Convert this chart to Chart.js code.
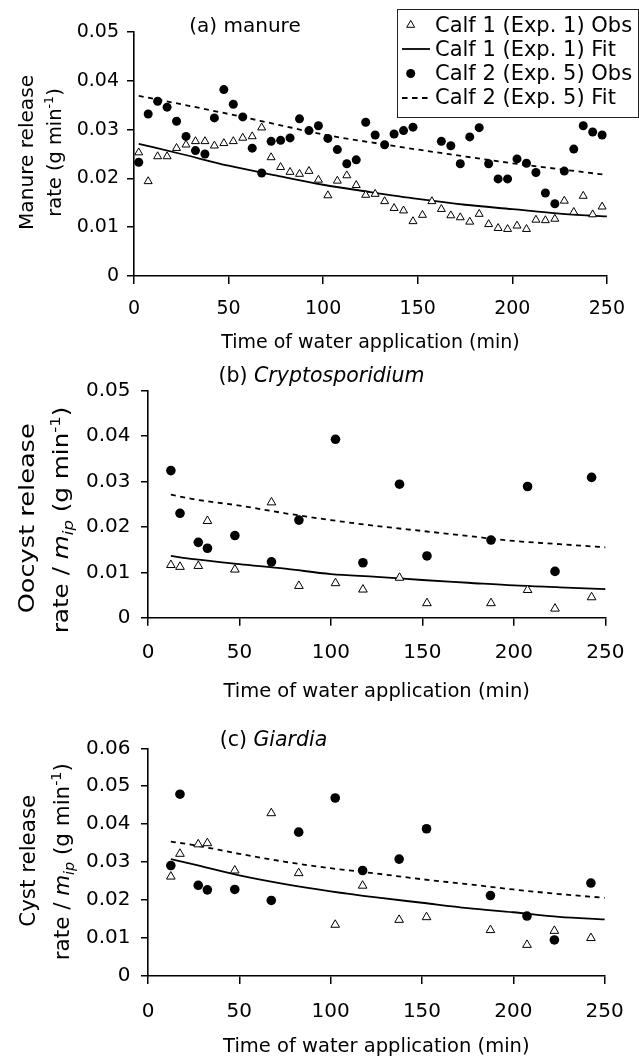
<!DOCTYPE html>
<html><head><meta charset="utf-8">
<script src="https://cdn.jsdelivr.net/npm/chart.js@4/dist/chart.umd.min.js"></script>
<style>
html,body{margin:0;padding:0;background:#fff;width:639px;height:1059px;overflow:hidden}
.panel{position:absolute;left:0;width:639px}
</style></head><body>
<div class="panel" style="top:0;height:354px"><canvas id="ca"></canvas></div>
<div class="panel" style="top:354px;height:350px"><canvas id="cb"></canvas></div>
<div class="panel" style="top:704px;height:355px"><canvas id="cc"></canvas></div>
<script>
// ---------------- DATA ----------------
const legendLabels = ['Calf 1 (Exp. 1) Obs', 'Calf 1 (Exp. 1) Fit', 'Calf 2 (Exp. 5) Obs', 'Calf 2 (Exp. 5) Fit'];
const xTickLabels = ['0', '50', '100', '150', '200', '250'];
const yTickLabels5 = ['0', '0.01', '0.02', '0.03', '0.04', '0.05'];
const yTickLabels6 = ['0', '0.01', '0.02', '0.03', '0.04', '0.05', '0.06'];

// (a) manure
const manureTime1 = [2.5, 7.5, 12.5, 17.5, 22.5, 27.5, 32.5, 37.5, 42.5, 47.5, 52.5, 57.5, 62.5, 67.5, 72.5, 77.5, 82.5, 87.5, 92.5, 97.5, 102.5, 107.5, 112.5, 117.5, 122.5, 127.5, 132.5, 137.5, 142.5, 147.5, 152.5, 157.5, 162.5, 167.5, 172.5, 177.5, 182.5, 187.5, 192.5, 197.5, 202.5, 207.5, 212.5, 217.5, 222.5, 227.5, 232.5, 237.5, 242.5, 247.5];
const manureCalf1Obs = [0.0253, 0.0194, 0.0245, 0.0245, 0.0262, 0.0269, 0.0276, 0.0276, 0.0267, 0.0272, 0.0276, 0.0283, 0.0286, 0.0304, 0.0243, 0.0223, 0.0213, 0.0209, 0.0215, 0.0197, 0.0165, 0.0195, 0.0206, 0.0186, 0.0166, 0.0168, 0.0153, 0.0139, 0.0134, 0.0112, 0.0125, 0.0153, 0.0137, 0.0124, 0.0120, 0.0111, 0.0127, 0.0106, 0.0098, 0.0096, 0.0103, 0.0096, 0.0115, 0.0114, 0.0117, 0.0154, 0.0131, 0.0164, 0.0126, 0.0142];
const manureTime2 = [2.5, 7.5, 12.5, 17.5, 22.5, 27.5, 32.5, 37.5, 42.5, 47.5, 52.5, 57.5, 62.5, 67.5, 72.5, 77.5, 82.5, 87.5, 92.5, 97.5, 102.5, 107.5, 112.5, 117.5, 122.5, 127.5, 132.5, 137.5, 142.5, 147.5, 162.5, 167.5, 172.5, 177.5, 182.5, 187.5, 192.5, 197.5, 202.5, 207.5, 212.5, 217.5, 222.5, 227.5, 232.5, 237.5, 242.5, 247.5];
const manureCalf2Obs = [0.0233, 0.0332, 0.0358, 0.0346, 0.0317, 0.0286, 0.0257, 0.0250, 0.0324, 0.0382, 0.0352, 0.0326, 0.0262, 0.0211, 0.0276, 0.0278, 0.0283, 0.0322, 0.0298, 0.0308, 0.0282, 0.0259, 0.0230, 0.0238, 0.0315, 0.0289, 0.0269, 0.0291, 0.0298, 0.0305, 0.0276, 0.0267, 0.0230, 0.0285, 0.0304, 0.0230, 0.0199, 0.0199, 0.0240, 0.0231, 0.0212, 0.0170, 0.0148, 0.0215, 0.0260, 0.0308, 0.0295, 0.0289];
const manureFitTime = [2.5, 25, 50, 75, 100, 125, 150, 175, 200, 225, 250];
const manureCalf1Fit = [0.0271, 0.0250, 0.0226, 0.0206, 0.0187, 0.0172, 0.0158, 0.0146, 0.0137, 0.0128, 0.0122];
const manureCalf2Fit = [0.0369, 0.0352, 0.0332, 0.0311, 0.0290, 0.0274, 0.0259, 0.0245, 0.0231, 0.0219, 0.0207];

// (b) Cryptosporidium and (c) Giardia share sampling times
const pathogenTime = [12.5, 17.5, 27.5, 32.5, 47.5, 67.5, 82.5, 102.5, 117.5, 137.5, 152.5, 187.5, 207.5, 222.5, 242.5];
const pathogenFitTime = [12.5, 25, 50, 75, 100, 125, 150, 175, 200, 225, 250];

const oocystCalf1Obs = [0.0116, 0.0112, 0.0114, 0.0213, 0.0106, 0.0254, 0.0070, 0.0076, 0.0062, 0.0088, 0.0032, 0.0032, 0.0061, 0.0020, 0.0045];
const oocystCalf2Obs = [0.0324, 0.0230, 0.0166, 0.0153, 0.0181, 0.0123, 0.0215, 0.0393, 0.0121, 0.0294, 0.0136, 0.0171, 0.0289, 0.0102, 0.0309];
const oocystCalf1Fit = [0.0136, 0.0129, 0.0118, 0.0108, 0.0096, 0.0090, 0.0083, 0.0077, 0.0071, 0.0067, 0.0063];
const oocystCalf2Fit = [0.0271, 0.0261, 0.0247, 0.0230, 0.0215, 0.0202, 0.0191, 0.0180, 0.0169, 0.0162, 0.0155];

const cystCalf1Obs = [0.0262, 0.0322, 0.0347, 0.0350, 0.0278, 0.0429, 0.0271, 0.0135, 0.0238, 0.0148, 0.0155, 0.0121, 0.0082, 0.0119, 0.0100];
const cystCalf2Obs = [0.0291, 0.0479, 0.0239, 0.0227, 0.0228, 0.0199, 0.0379, 0.0469, 0.0278, 0.0308, 0.0388, 0.0212, 0.0158, 0.0095, 0.0245];
const cystCalf1Fit = [0.0308, 0.0294, 0.0265, 0.0242, 0.0223, 0.0207, 0.0193, 0.0179, 0.0168, 0.0156, 0.0149];
const cystCalf2Fit = [0.0354, 0.0345, 0.0322, 0.0301, 0.0284, 0.0270, 0.0255, 0.0242, 0.0228, 0.0216, 0.0206];

// ---------------- DRAWING ----------------
const FONT = '"DejaVu Sans", "Liberation Sans", sans-serif';
const pts = (xs, ys) => xs.map((x, i) => ({x: x, y: ys[i]}));
function seg(text, size, style, dy) { return {text: text, size: size, style: style || 'normal', dy: dy || 0}; }

function drawRich(ctx, segs, x, y, o) {
  o = o || {};
  let w = 0;
  const widths = segs.map(s => { ctx.font = s.style + ' ' + s.size + 'px ' + FONT; const m = ctx.measureText(s.text).width; w += m; return m; });
  const k = o.length ? o.length / w : 1;
  ctx.save();
  ctx.translate(x, y);
  if (o.rotate) ctx.rotate(-Math.PI / 2);
  ctx.scale(k, 1);
  ctx.textAlign = 'left'; ctx.textBaseline = 'alphabetic'; ctx.fillStyle = '#000';
  let cx = o.align === 'left' ? 0 : -w / 2;
  segs.forEach((s, i) => { ctx.font = s.style + ' ' + s.size + 'px ' + FONT; ctx.fillText(s.text, cx, s.dy); cx += widths[i]; });
  ctx.restore();
}

function drawLegend(ctx) {
  ctx.save();
  ctx.fillStyle = '#fff'; ctx.strokeStyle = '#222'; ctx.lineWidth = 1;
  ctx.fillRect(397.5, 9.5, 241, 108);
  ctx.strokeRect(397.5, 9.5, 241, 108);
  const symY = [25, 49, 73.5, 98];
  const txtY = [31.5, 55.5, 79.5, 103.5];
  // triangle
  const r = 4.6, cx = 410.7;
  ctx.beginPath();
  for (let i = 0; i < 3; i++) { const a = i * 2 * Math.PI / 3; ctx.lineTo(cx + Math.sin(a) * r, symY[0] - Math.cos(a) * r); }
  ctx.closePath(); ctx.fillStyle = '#fff'; ctx.fill(); ctx.strokeStyle = '#000'; ctx.lineWidth = 1; ctx.stroke();
  // solid line
  ctx.beginPath(); ctx.lineWidth = 1.8; ctx.moveTo(402, symY[1]); ctx.lineTo(430, symY[1]); ctx.stroke();
  // circle
  ctx.beginPath(); ctx.arc(cx, symY[2], 4.5, 0, 2 * Math.PI); ctx.fillStyle = '#000'; ctx.fill();
  // dashed line
  ctx.beginPath(); ctx.setLineDash([5.5, 4.5]); ctx.lineWidth = 1.8; ctx.moveTo(402, symY[3]); ctx.lineTo(432, symY[3]); ctx.stroke(); ctx.setLineDash([]);
  legendLabels.forEach((t, i) => drawRich(ctx, [seg(t, 21)], 435, txtY[i], {align: 'left'}));
  ctx.restore();
}

function makeAnnot(p) {
  return {
    id: 'annot',
    afterDraw(chart) {
      const ctx = chart.ctx;
      drawRich(ctx, p.title, p.titleX, p.titleY - p.top, {});
      p.yTitle.forEach(l => drawRich(ctx, l.segs, l.x, l.y - p.top, {rotate: true, length: l.len}));
      if (p.legend) drawLegend(ctx);
    }
  };
}

function makeChart(id, p) {
  const datasets = [
    {label: legendLabels[0], data: pts(p.t1, p.obs1), pointStyle: 'triangle', pointRadius: p.triR, backgroundColor: '#fff', borderColor: '#000', borderWidth: 1, showLine: false},
    {label: legendLabels[2], data: pts(p.t2, p.obs2), pointStyle: 'circle', pointRadius: p.cirR, backgroundColor: '#000', borderColor: '#000', borderWidth: 0, showLine: false},
    {label: legendLabels[1], data: pts(p.tf, p.fit1), showLine: true, pointRadius: 0, borderColor: '#000', borderWidth: 1.8, cubicInterpolationMode: 'monotone', fill: false},
    {label: legendLabels[3], data: pts(p.tf, p.fit2), showLine: true, pointRadius: 0, borderColor: '#000', borderWidth: 1.8, borderDash: [5, 4.5], cubicInterpolationMode: 'monotone', fill: false}
  ];
  return new Chart(document.getElementById(id), {
    type: 'scatter',
    data: {datasets: datasets},
    plugins: [makeAnnot(p)],
    options: {
      responsive: true, maintainAspectRatio: false, animation: false, events: [],
      devicePixelRatio: 1,
      clip: false,
      layout: {padding: p.pad},
      plugins: {legend: {display: false}, tooltip: {enabled: false}, title: {display: false}},
      scales: {
        x: {
          type: 'linear', min: 0, max: 250,
          ticks: {stepSize: 50, color: '#000', font: {family: FONT, size: p.tickSize}, padding: p.xTickPad, maxRotation: 0, autoSkip: false,
                  callback: (v, i) => xTickLabels[i]},
          grid: {drawOnChartArea: false, drawTicks: true, tickLength: 8, color: '#000', lineWidth: 1.5},
          border: {display: true, color: '#000', width: 1.6},
          title: {display: true, text: 'Time of water application (min)', color: '#000', font: {family: FONT, size: p.xTitleSize}, padding: {top: 0, bottom: 0}},
          afterFit: s => { s.height = p.xHeight; }
        },
        y: {
          type: 'linear', min: 0, max: p.yMax,
          ticks: {stepSize: 0.01, color: '#000', font: {family: FONT, size: p.tickSize}, padding: p.yTickPad,
                  callback: (v, i) => p.yLabels[i]},
          grid: {drawOnChartArea: false, drawTicks: true, tickLength: 7, color: '#000', lineWidth: 1.5},
          border: {display: true, color: '#000', width: 1.6},
          afterFit: s => { s.width = p.yWidth; }
        }
      }
    }
  });
}

makeChart('ca', {
  top: 0, pad: {top: 32, right: 21.3, left: 0, bottom: 0}, yWidth: 134, xHeight: 78,
  yMax: 0.05, yLabels: yTickLabels5, tickSize: 19, xTitleSize: 19, xTickPad: 14, yTickPad: 8,
  t1: manureTime1, obs1: manureCalf1Obs, t2: manureTime2, obs2: manureCalf2Obs,
  tf: manureFitTime, fit1: manureCalf1Fit, fit2: manureCalf2Fit, triR: 4.6, cirR: 4.5,
  title: [seg('(a) manure', 20)], titleX: 245, titleY: 32.3,
  yTitle: [
    {segs: [seg('Manure release', 20)], x: 33.3, y: 152.5, len: 155},
    {segs: [seg('rate (g min', 20), seg('-1', 13, 'normal', -8), seg(')', 20)], x: 61, y: 152.5, len: 128.4}
  ],
  legend: true
});

makeChart('cb', {
  top: 354, pad: {top: 36.7, right: 29.7, left: 0, bottom: 0}, yWidth: 148, xHeight: 86.3,
  yMax: 0.05, yLabels: yTickLabels5, tickSize: 20, xTitleSize: 19.5, xTickPad: 14.6, yTickPad: 10.5,
  t1: pathogenTime, obs1: oocystCalf1Obs, t2: pathogenTime, obs2: oocystCalf2Obs,
  tf: pathogenFitTime, fit1: oocystCalf1Fit, fit2: oocystCalf2Fit, triR: 5, cirR: 4.8,
  title: [seg('(b) ', 20.5), seg('Cryptosporidium', 20.5, 'italic')], titleX: 321.5, titleY: 382,
  yTitle: [
    {segs: [seg('Oocyst release', 21)], x: 34.3, y: 518.3, len: 190},
    {segs: [seg('rate / ', 21), seg('m', 21, 'italic'), seg('ip', 14, 'italic', 5), seg(' (g min', 21), seg('-1', 14, 'normal', -8), seg(')', 21)], x: 68.3, y: 520, len: 226.6}
  ],
  legend: false
});

makeChart('cc', {
  top: 704, pad: {top: 44.3, right: 30.7, left: 0, bottom: 0}, yWidth: 148, xHeight: 83,
  yMax: 0.06, yLabels: yTickLabels6, tickSize: 20, xTitleSize: 19.5, xTickPad: 15.3, yTickPad: 10.5,
  t1: pathogenTime, obs1: cystCalf1Obs, t2: pathogenTime, obs2: cystCalf2Obs,
  tf: pathogenFitTime, fit1: cystCalf1Fit, fit2: cystCalf2Fit, triR: 5, cirR: 4.8,
  title: [seg('(c) ', 20.5), seg('Giardia', 20.5, 'italic')], titleX: 273.5, titleY: 745.5,
  yTitle: [
    {segs: [seg('Cyst release', 21)], x: 35, y: 860.8, len: 132},
    {segs: [seg('rate / ', 21), seg('m', 21, 'italic'), seg('ip', 14, 'italic', 5), seg(' (g min', 21), seg('-1', 14, 'normal', -8), seg(')', 21)], x: 69, y: 861.7, len: 197}
  ],
  legend: false
});
</script>
</body></html>
